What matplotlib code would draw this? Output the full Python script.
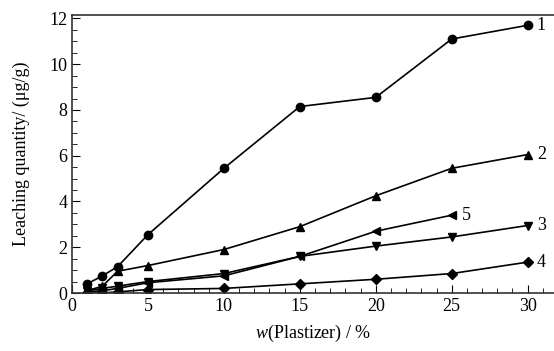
import numpy as np
import matplotlib.pyplot as plt
from matplotlib.ticker import MultipleLocator

plt.rcParams['font.family'] = ['Liberation Serif', 'DejaVu Serif']
plt.rcParams['mathtext.fontset'] = 'custom'
plt.rcParams['mathtext.rm'] = 'Liberation Serif'
plt.rcParams['mathtext.it'] = 'Liberation Serif:italic'

# --- data ---
x_all = [1, 2, 3, 5, 10, 15, 20, 25, 30]
s1 = [0.4, 0.75, 1.15, 2.55, 5.45, 8.15, 8.55, 11.1, 11.7]
s2 = [0.1, 0.3, 0.95, 1.2, 1.9, 2.9, 4.25, 5.45, 6.05]
s3 = [0.1, 0.2, 0.3, 0.5, 0.85, 1.6, 2.05, 2.45, 2.95]
s4 = [0.0, 0.0, 0.05, 0.15, 0.2, 0.4, 0.6, 0.85, 1.35]
x5 = [1, 2, 3, 5, 10, 15, 20, 25]
s5 = [0.05, 0.1, 0.2, 0.45, 0.75, 1.6, 2.7, 3.4]

fig = plt.figure(figsize=(5.54, 3.51), dpi=100)
ax = fig.add_axes([72/554, 58/351, 483/554, 278/351])

ms = 6
ax.plot(x_all, s1, 'k-o', lw=1.2, ms=ms)
ax.plot(x_all, s2, 'k-^', lw=1.2, ms=ms)
ax.plot(x_all, s3, 'k-v', lw=1.2, ms=ms)
ax.plot(x_all, s4, 'k-D', lw=1.2, ms=5.5)
ax.plot(x5, s5, 'k-<', lw=1.2, ms=ms)

# curve labels
ax.text(30.6, s1[-1], '1', fontsize=13, va='center')
ax.text(30.6, s2[-1], '2', fontsize=13, va='center')
ax.text(30.6, s3[-1], '3', fontsize=13, va='center')
ax.text(30.6, s4[-1], '4', fontsize=13, va='center')
ax.text(25.7, s5[-1], '5', fontsize=13, va='center')

ax.set_xlim(0, 31.8)
ax.set_ylim(0, 12.15)
ax.xaxis.set_major_locator(MultipleLocator(5))
ax.xaxis.set_minor_locator(MultipleLocator(1))
ax.yaxis.set_major_locator(MultipleLocator(2))
ax.yaxis.set_minor_locator(MultipleLocator(0.5))
ax.tick_params(which='both', direction='in', top=False, right=False, labelsize=13)
ax.tick_params(which='major', length=6)
ax.tick_params(which='minor', length=3.5)
for sp in ax.spines.values():
    sp.set_linewidth(1.2)
    sp.set_color('#333333')

ax.set_xlabel(r'$\it{w}$(Plastizer) / %', fontsize=13, labelpad=6)
ax.set_ylabel('Leaching quantity/ (\u03bcg/g)', fontsize=13, labelpad=14)

fig.savefig('out.png', dpi=100)
